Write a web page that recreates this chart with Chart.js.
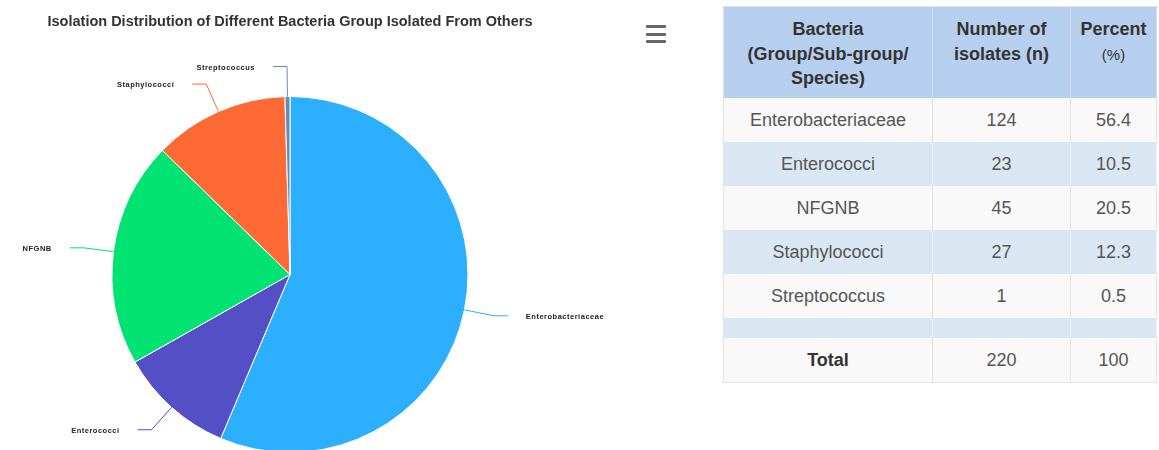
<!DOCTYPE html>
<html>
<head>
<meta charset="utf-8">
<script src="https://cdn.jsdelivr.net/npm/chart.js@4/dist/chart.umd.min.js"></script>
<style>
    html, body { margin: 0; padding: 0; background: #fff; overflow: hidden; }
    body { width: 1159px; height: 450px; position: relative; font-family: "Liberation Sans", Arial, sans-serif; }
    #chartBox { position: absolute; left: 0; top: 0; width: 660px; height: 460px; }
    .menu { position: absolute; left: 646px; top: 25px; width: 20px; }
    .menu span { display: block; height: 3px; background: #666; margin-bottom: 4.5px; border-radius: 1px; }
    table.bact {
        position: absolute; left: 723px; top: 6px; width: 434px; table-layout: fixed;
        border-collapse: collapse; border: 1px solid #e4e4e4;
        color: #555; font-size: 18px; text-align: center;
    }
    .bact th {
        background: #b7cfee; color: #333; font-weight: bold;
        vertical-align: top; padding: 10px 0 0 0; height: 81px;
        line-height: 24.5px; border-right: 1px solid #cfdef2;
    }
    .bact th small { font-weight: normal; font-size: 15px; }
    .bact td { height: 44px; padding: 0; border-right: 1px solid #e2e2e2; }
    .bact tr.odd td { background: #f9f9f9; }
    .bact tr.even td { background: #dbe6f3; border-right-color: #eef3fa; }
    .bact tr.gap td { height: 20px; }
    .bact tr.total td:first-child { font-weight: bold; color: #333; }
</style>
</head>
<body>
<div id="chartBox"><canvas id="bacteriaChart" width="660" height="460"></canvas></div>
<div class="menu"><span></span><span></span><span></span></div>
<table class="bact" id="bactTable"></table>

<script>
// Dados dos grupos de bactérias
const bacteria = ['Enterobacteriaceae', 'Enterococci', 'NFGNB', 'Staphylococci', 'Streptococcus'];
const isolates = [124, 23, 45, 27, 1];
const percents = ['56.4', '10.5', '20.5', '12.3', '0.5'];
const totalPercent = '100';
const sliceColors = ['#2caffe', '#544fc5', '#00e272', '#fe6a35', '#6b8abc'];

// Rótulos com linha de ligação, fora da pizza
const leaderLabels = {
    id: 'leaderLabels',
    afterDatasetsDraw(chart) {
        const ctx = chart.ctx;
        const arcs = chart.getDatasetMeta(0).data;
        ctx.save();
        ctx.font = 'bold 7.5px "Liberation Sans", Arial, sans-serif';
        ctx.letterSpacing = '0.5px';
        ctx.fillStyle = '#222';
        ctx.textBaseline = 'middle';
        arcs.forEach((arc, i) => {
            const p = arc.getProps(['x', 'y', 'startAngle', 'endAngle', 'outerRadius'], true);
            const a = (p.startAngle + p.endAngle) / 2;
            const cos = Math.cos(a), sin = Math.sin(a);
            const side = cos >= 0 ? 1 : -1;
            const x0 = p.x + p.outerRadius * cos, y0 = p.y + p.outerRadius * sin;
            const x1 = p.x + (p.outerRadius + 30) * cos, y1 = p.y + (p.outerRadius + 30) * sin;
            const x2 = x1 + side * 14;
            ctx.strokeStyle = sliceColors[i];
            ctx.lineWidth = 1;
            ctx.beginPath();
            ctx.moveTo(x0, y0);
            ctx.lineTo(x1, y1);
            ctx.lineTo(x2, y1);
            ctx.stroke();
            ctx.textAlign = side > 0 ? 'left' : 'right';
            ctx.fillText(chart.data.labels[i], x2 + side * 18, y1 + 1);
        });
        ctx.restore();
    }
};

const ctx = document.getElementById('bacteriaChart').getContext('2d');
const bacteriaChart = new Chart(ctx, {
    type: 'pie',
    data: {
        labels: bacteria,
        datasets: [{
            data: isolates,
            backgroundColor: sliceColors,
            borderColor: '#ffffff',
            borderWidth: 1
        }]
    },
    options: {
        responsive: false,
        animation: false,
        // área útil de 0 a 580 px, o resto fica para o rótulo da direita
        layout: { padding: { top: 0, bottom: 7, left: 0, right: 80 } },
        plugins: {
            legend: { display: false },
            tooltip: { enabled: false },
            title: {
                display: true,
                text: 'Isolation Distribution of Different Bacteria Group Isolated From Others',
                color: '#333',
                font: { family: '"Liberation Sans", Arial, sans-serif', size: 14.5, weight: 'bold', lineHeight: 1.2 },
                padding: { top: 13, bottom: 65.6 }
            }
        }
    },
    plugins: [leaderLabels]
});

// Tabela ao lado do gráfico
const table = document.getElementById('bactTable');
let html = '<tr><th style="width:208px">Bacteria<br>(Group/Sub-group/<br>Species)</th>' +
    '<th style="width:137px">Number of<br>isolates (n)</th>' +
    '<th>Percent<br><small>(%)</small></th></tr>';
bacteria.forEach((name, i) => {
    html += '<tr class="' + (i % 2 === 0 ? 'odd' : 'even') + '"><td>' + name + '</td><td>' +
        isolates[i] + '</td><td>' + percents[i] + '</td></tr>';
});
html += '<tr class="even gap"><td></td><td></td><td></td></tr>';
const totalIsolates = isolates.reduce((s, v) => s + v, 0);
html += '<tr class="odd total"><td>Total</td><td>' + totalIsolates + '</td><td>' + totalPercent + '</td></tr>';
table.innerHTML = html;
</script>
</body>
</html>
